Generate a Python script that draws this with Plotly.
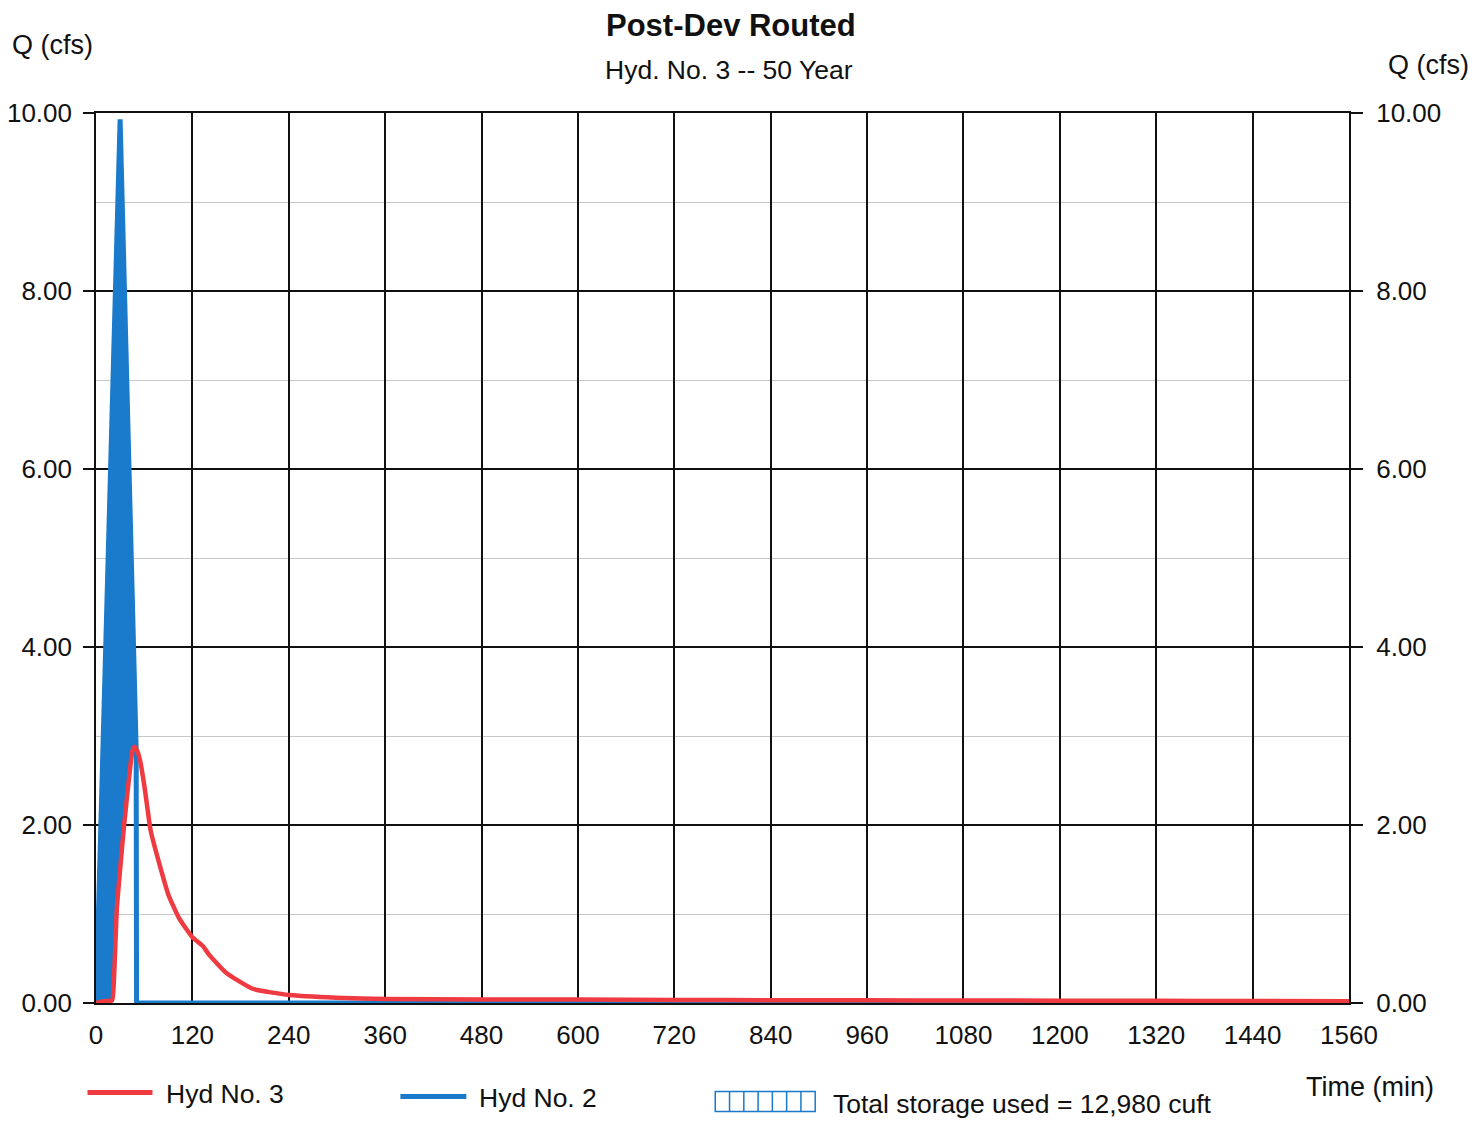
import numpy as np
import plotly.graph_objects as go

# ---- data ----
# Hyd No. 2 (inflow)
t_in = [0, 30, 50, 50.5, 1560]
q_in = [0.0, 9.93, 2.85, 0.0, 0.0]
# Hyd No. 3 (routed outflow)
t_out = [0, 10, 20, 22, 26, 30, 35, 42, 45, 48, 51, 55, 61, 68, 79, 90, 103, 120, 133, 141,
         162, 195, 241, 299, 361, 480, 600, 720, 840, 960, 1080, 1200, 1320, 1440, 1560]
q_out = [0.0, 0.02, 0.03, 0.2, 1.07, 1.5, 2.0, 2.6, 2.82, 2.88, 2.84, 2.72, 2.39, 1.94, 1.56, 1.22,
         0.96, 0.74, 0.64, 0.54, 0.34, 0.16, 0.09, 0.06, 0.045, 0.04, 0.038, 0.035, 0.032,
         0.03, 0.028, 0.026, 0.024, 0.022, 0.02]
x_ticks = list(range(0, 1561, 120))
y_ticks = [0, 2, 4, 6, 8, 10]
storage_text = "Total storage used = 12,980 cuft"

RED = "#ef3a42"
BLUE = "#1a7acb"
FONT = "Liberation Sans, Arial, sans-serif"

W, H = 1484, 1121
L, R, T, B = 95.5, 1349, 113, 1003.5

# storage region: between inflow and outflow where inflow > outflow
grid = np.union1d(np.linspace(0, 60, 1201), np.array(t_out, dtype=float))
grid = grid[grid <= 60]
qi = np.interp(grid, t_in, q_in)
qo = np.interp(grid, t_out, q_out)
upper = np.maximum(qi, qo)

fig = go.Figure()
fig.add_trace(go.Scatter(x=grid, y=qo, mode="lines", line=dict(width=0, color=BLUE),
                         showlegend=False, hoverinfo="skip"))
fig.add_trace(go.Scatter(x=grid, y=upper, mode="lines", line=dict(width=0, color=BLUE),
                         fill="tonexty", fillcolor=BLUE, showlegend=False, hoverinfo="skip"))
fig.add_trace(go.Scatter(x=t_in, y=q_in, mode="lines", name="Hyd No. 2",
                         line=dict(color=BLUE, width=5), showlegend=False))
fig.add_trace(go.Scatter(x=t_out, y=q_out, mode="lines", name="Hyd No. 3",
                         line=dict(color=RED, width=4.5, shape="spline", smoothing=0.5),
                         showlegend=False))
# dummy trace for right axis
fig.add_trace(go.Scatter(x=[0], y=[0], yaxis="y2", mode="markers",
                         marker=dict(opacity=0), showlegend=False, hoverinfo="skip"))

def px_x(x):
    return (x - L) / (R - L)

def px_y(y):
    return (B - y) / (B - T)

fig.update_layout(
    width=W, height=H,
    margin=dict(l=L, r=W - R, t=T, b=H - B, pad=0),
    paper_bgcolor="white", plot_bgcolor="white",
    font=dict(family=FONT, size=26, color="#111111"),
    xaxis=dict(range=[0, 1560], tickvals=x_ticks, ticktext=[str(v) for v in x_ticks],
               showgrid=True, gridcolor="#111111", gridwidth=1.6, zeroline=False,
               showline=True, linecolor="#111111", linewidth=1.6, mirror=True,
               ticks="outside", ticklen=0, ticklabelstandoff=8, automargin=False,
               tickfont=dict(size=26)),
    yaxis=dict(range=[0, 10], tickvals=y_ticks, ticktext=[f"{v:.2f}" for v in y_ticks],
               showgrid=True, gridcolor="#111111", gridwidth=1.6, zeroline=False,
               showline=True, linecolor="#111111", linewidth=1.6, mirror=True,
               ticks="outside", ticklen=11, tickcolor="#111111", tickwidth=1.6,
               ticklabelstandoff=6, automargin=False,
               minor=dict(dtick=1, showgrid=True, gridcolor="#c8c8c8", gridwidth=1.2),
               tickfont=dict(size=26)),
    yaxis2=dict(range=[0, 10], tickvals=y_ticks, ticktext=[f"{v:.2f}" for v in y_ticks],
                overlaying="y", side="right", showgrid=False, zeroline=False,
                ticks="outside", ticklen=13, tickcolor="#111111", tickwidth=1.6,
                ticklabelstandoff=8, automargin=False, tickfont=dict(size=26)),
)

ann = []
def text(x, y, s, size=26.5, bold=False, xanchor="left"):
    ann.append(dict(x=px_x(x), y=px_y(y), xref="paper", yref="paper", text=(f"<b>{s}</b>" if bold else s),
                    showarrow=False, xanchor=xanchor, yanchor="middle",
                    font=dict(size=size, family=FONT, color="#111111")))

text(731, 25, "Post-Dev Routed", size=31, bold=True, xanchor="center")
text(729, 70, "Hyd. No. 3 -- 50 Year", size=26.5, xanchor="center")
text(9, 45, "Q (cfs)", size=27)
text(1386, 65, "Q (cfs)", size=27)
text(1304, 1088, "Time (min)", size=27)
text(164, 1095, "Hyd No. 3")
text(477, 1099, "Hyd No. 2")
text(831, 1105, storage_text)
fig.update_layout(annotations=ann)

shapes = [
    dict(type="line", xref="paper", yref="paper", x0=px_x(87), x1=px_x(152), y0=px_y(1093), y1=px_y(1093),
         line=dict(color=RED, width=5)),
    dict(type="line", xref="paper", yref="paper", x0=px_x(400), x1=px_x(466), y0=px_y(1097), y1=px_y(1097),
         line=dict(color=BLUE, width=5)),
    dict(type="rect", xref="paper", yref="paper", x0=px_x(715), x1=px_x(815), y0=px_y(1112), y1=px_y(1092),
         line=dict(color=BLUE, width=1.5)),
]
for i in range(1, 7):
    xx = 715 + i * 100 / 7
    shapes.append(dict(type="line", xref="paper", yref="paper", x0=px_x(xx), x1=px_x(xx),
                       y0=px_y(1112), y1=px_y(1092), line=dict(color=BLUE, width=1.5)))
fig.update_layout(shapes=shapes)

fig.write_html("out.html")
